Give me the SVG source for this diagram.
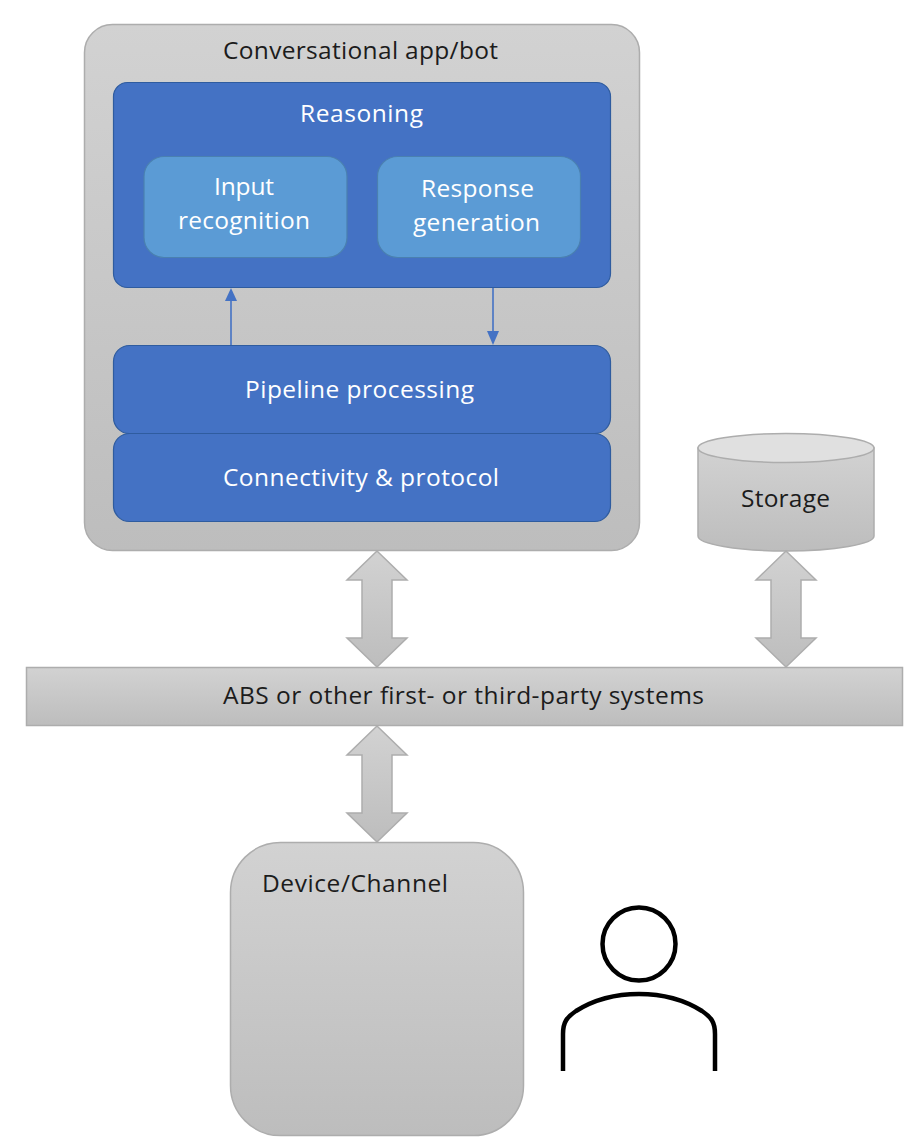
<svg xmlns="http://www.w3.org/2000/svg" width="921" height="1145" viewBox="0 0 921 1145">
<style>
text{font-family:"Open Sans","Noto Sans","Liberation Sans",sans-serif;font-size:24.500px;text-anchor:middle}
.d{fill:#1c1c1c}
.w{fill:#fff}
.g{fill:url(#gr);stroke:#adadad;stroke-width:1.5}
.b{fill:#4472c4;stroke:#2f5c9f;stroke-width:1.2}
.l{fill:#5b9bd5;stroke:#4a80b0;stroke-width:1.2}
.c{stroke:#4472c4;stroke-width:1.6;fill:none}
</style>
<defs>
<linearGradient id="gr" x1="0" y1="0" x2="0" y2="1"><stop offset="0" stop-color="#d2d2d2"/><stop offset="1" stop-color="#bdbdbd"/></linearGradient>
<path id="dbl" d="M0 0L30 29H15V87H30L0 116L-30 87H-15V29H-30Z"/>
</defs>
<rect width="921" height="1145" fill="#fff"/>
<g id="app"><rect class="g" x="84.500" y="24.500" width="555" height="526" rx="28"/><text class="d" x="360.500" y="59" textLength="275">Conversational app/bot</text></g>
<g id="reasoning"><rect class="b" x="113.500" y="82.500" width="497" height="205" rx="14"/><text class="w" x="361.500" y="122" textLength="123">Reasoning</text></g>
<g id="input"><rect class="l" x="144" y="156.500" width="203" height="101" rx="20"/><text class="w" x="244" y="195" textLength="60">Input</text><text class="w" x="244" y="229" textLength="132">recognition</text></g>
<g id="response"><rect class="l" x="377.500" y="156.500" width="203" height="101" rx="20"/><text class="w" x="477.500" y="197" textLength="113">Response</text><text class="w" x="476.500" y="231" textLength="127">generation</text></g>
<g id="pipeline"><rect class="b" x="113.500" y="345.500" width="497" height="88" rx="16"/><text class="w" x="359.500" y="398" textLength="229">Pipeline processing</text></g>
<g id="connectivity"><rect class="b" x="113.500" y="433.500" width="497" height="88" rx="16"/><text class="w" x="361" y="486" textLength="276">Connectivity &amp; protocol</text></g>
<g id="storage">
<path class="g" d="M698 448V536C698 544 737 551 786 551S874 544 874 536V448Z"/>
<ellipse cx="786" cy="448" rx="88" ry="14.500" fill="#e0e0e0" stroke="#adadad" stroke-width="1.500"/>
<text class="d" x="785.500" y="507" textLength="89">Storage</text></g>
<g id="abs"><rect class="g" x="26.500" y="667.500" width="876" height="58"/><text class="d" x="463.500" y="704" textLength="481">ABS or other first- or third-party systems</text></g>
<g id="device"><rect class="g" x="230.500" y="842.500" width="293" height="293" rx="50"/><text class="d" x="355" y="892" textLength="186">Device/Channel</text></g>
<g id="user" fill="none" stroke="#000" stroke-width="4.500"><circle cx="639" cy="944" r="36.500"/><path d="M563 1071V1034C563 1022 567 1017 576 1011C595 999 615 994 639 994S683 999 702 1011C711 1017 715 1022 715 1034V1071"/></g>
<g id="connectors">
<line class="c" x1="231" y1="345" x2="231" y2="298"/><path d="M231 288L237 301H225Z" fill="#4472c4"/>
<line class="c" x1="493" y1="288" x2="493" y2="334"/><path d="M493 345L487 331H499Z" fill="#4472c4"/>
<use href="#dbl" x="377" y="551" class="g"/>
<use href="#dbl" x="786" y="551" class="g"/>
<use href="#dbl" x="377" y="726" class="g"/>
</g>
</svg>
